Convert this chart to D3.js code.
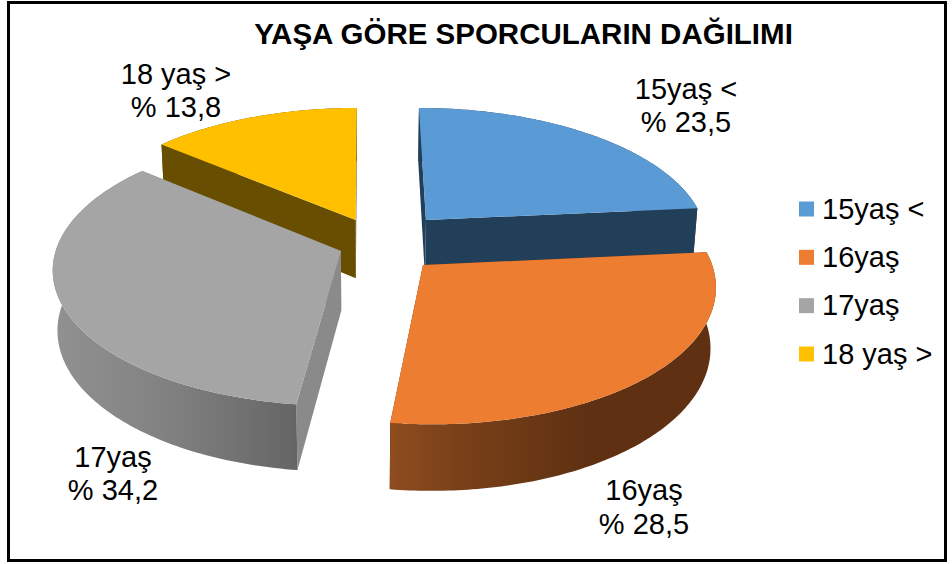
<!DOCTYPE html>
<html><head><meta charset="utf-8">
<script src="https://cdn.jsdelivr.net/npm/d3@7/dist/d3.min.js"></script>
<style>html,body{margin:0;padding:0;background:#fff}svg{display:block}text{font-family:"Liberation Sans",Arial,sans-serif;fill:#000}</style>
</head><body><svg id="c" width="952" height="564"></svg>
<script>
// Data
const title = "YAŞA GÖRE SPORCULARIN DAĞILIMI";
const categories = ["15yaş <", "16yaş", "17yaş", "18 yaş >"];
const shares = [23.5, 28.5, 34.2, 13.8];
const shareLabels = ["% 23,5", "% 28,5", "% 34,2", "% 13,8"];
const calloutNames = ["15yaş <", "16yaş", "17yaş", "18 yaş >"];

// Styles
const topColors = ["#5B9BD5", "#ED7D31", "#A5A5A5", "#FFC000"];
const wallColors = ["#223F59", "#5F3112", "#8A8A8A", "#684E00"];
const rimStops = [
  [["0%", "#223F59"], ["100%", "#223F59"]],
  [["0%", "#8E4C1F"], ["20%", "#7A4119"], ["60%", "#5F3112"], ["100%", "#5F3112"]],
  [["0%", "#919191"], ["45%", "#828282"], ["100%", "#656565"]],
  [["0%", "#684E00"], ["100%", "#684E00"]]
];

// Layout: perspective projection of the tilted pie plane
const cam = {x0: 364, y0: 239.3, a: 282, b: 131.3, h: 60, p: 0.13, q: 0.015};
const sliceOffsets = [[0.224, -0.15], [0.204, 0.191], [-0.081, 0.0883], [-0.030, -0.15]];
const calloutPos = [[686, 99, 132], [644, 500, 534], [113, 467, 500], [176, 84, 117]];
const paintOrder = [3, 0, 2, 1];

const svg = d3.select("#c");
const defs = svg.append("defs");
const project = (u, v, z) => {
  const den = 1 - cam.p * v + cam.q * z;
  return [cam.x0 + cam.a * u / den, cam.y0 + (cam.b * v + cam.h * z) / den];
};
const line = d3.line();
const arcs = d3.pie().value(d => d).sort(null).startAngle(0).endAngle(2 * Math.PI)(shares);

const rimPoint = (i, ang, z) => {
  const [cu, cv] = sliceOffsets[i];
  return project(cu + Math.sin(ang), cv - Math.cos(ang), z);
};
const apex = (i, z) => project(sliceOffsets[i][0], sliceOffsets[i][1], z);
const sweep = d => d3.range(0, 121).map(k => d.startAngle + (d.endAngle - d.startAngle) * k / 120);

rimStops.forEach((stops, i) => {
  const g = defs.append("linearGradient").attr("id", "rim" + i);
  stops.forEach(s => g.append("stop").attr("offset", s[0]).attr("stop-color", s[1]));
});

const plot = svg.append("g");
paintOrder.forEach(i => {
  const d = arcs[i], g = plot.append("g");
  const angs = sweep(d);
  [d.startAngle, d.endAngle].forEach(a => {
    g.append("path")
      .attr("d", line([apex(i, 0), rimPoint(i, a, 0), rimPoint(i, a, 1), apex(i, 1)]) + "Z")
      .attr("fill", wallColors[i]);
  });
  const rim = angs.map(a => rimPoint(i, a, 0)).concat(angs.slice().reverse().map(a => rimPoint(i, a, 1)));
  g.append("path").attr("d", line(rim) + "Z").attr("fill", `url(#rim${i})`);
  const top = [apex(i, 0)].concat(angs.map(a => rimPoint(i, a, 0)));
  g.append("path").attr("d", line(top) + "Z").attr("fill", topColors[i]);
});

// Title
svg.append("text").attr("x", 523.5).attr("y", 44).attr("text-anchor", "middle")
  .attr("font-size", 29.5).attr("font-weight", "bold").text(title);

// Callouts
categories.forEach((c, i) => {
  const [x, y1, y2] = calloutPos[i];
  svg.append("text").attr("x", x).attr("y", y1).attr("text-anchor", "middle").attr("font-size", 29).text(calloutNames[i]);
  svg.append("text").attr("x", x).attr("y", y2).attr("text-anchor", "middle").attr("font-size", 29).text(shareLabels[i]);
});

// Legend
const legendY = d3.scalePoint().domain(categories).range([209, 354]);
const legend = svg.append("g").selectAll("g").data(categories).join("g")
  .attr("transform", c => `translate(799,${legendY(c)})`);
legend.append("rect").attr("x", 0).attr("y", -7.5).attr("width", 15).attr("height", 15)
  .attr("fill", (c, i) => topColors[i]);
legend.append("text").attr("x", 23).attr("y", 9.5).attr("font-size", 29).text(c => c);

// Frame
svg.append("rect").attr("x", 8.5).attr("y", 2.5).attr("width", 937).attr("height", 558)
  .attr("fill", "none").attr("stroke", "#000").attr("stroke-width", 3);
</script></body></html>
